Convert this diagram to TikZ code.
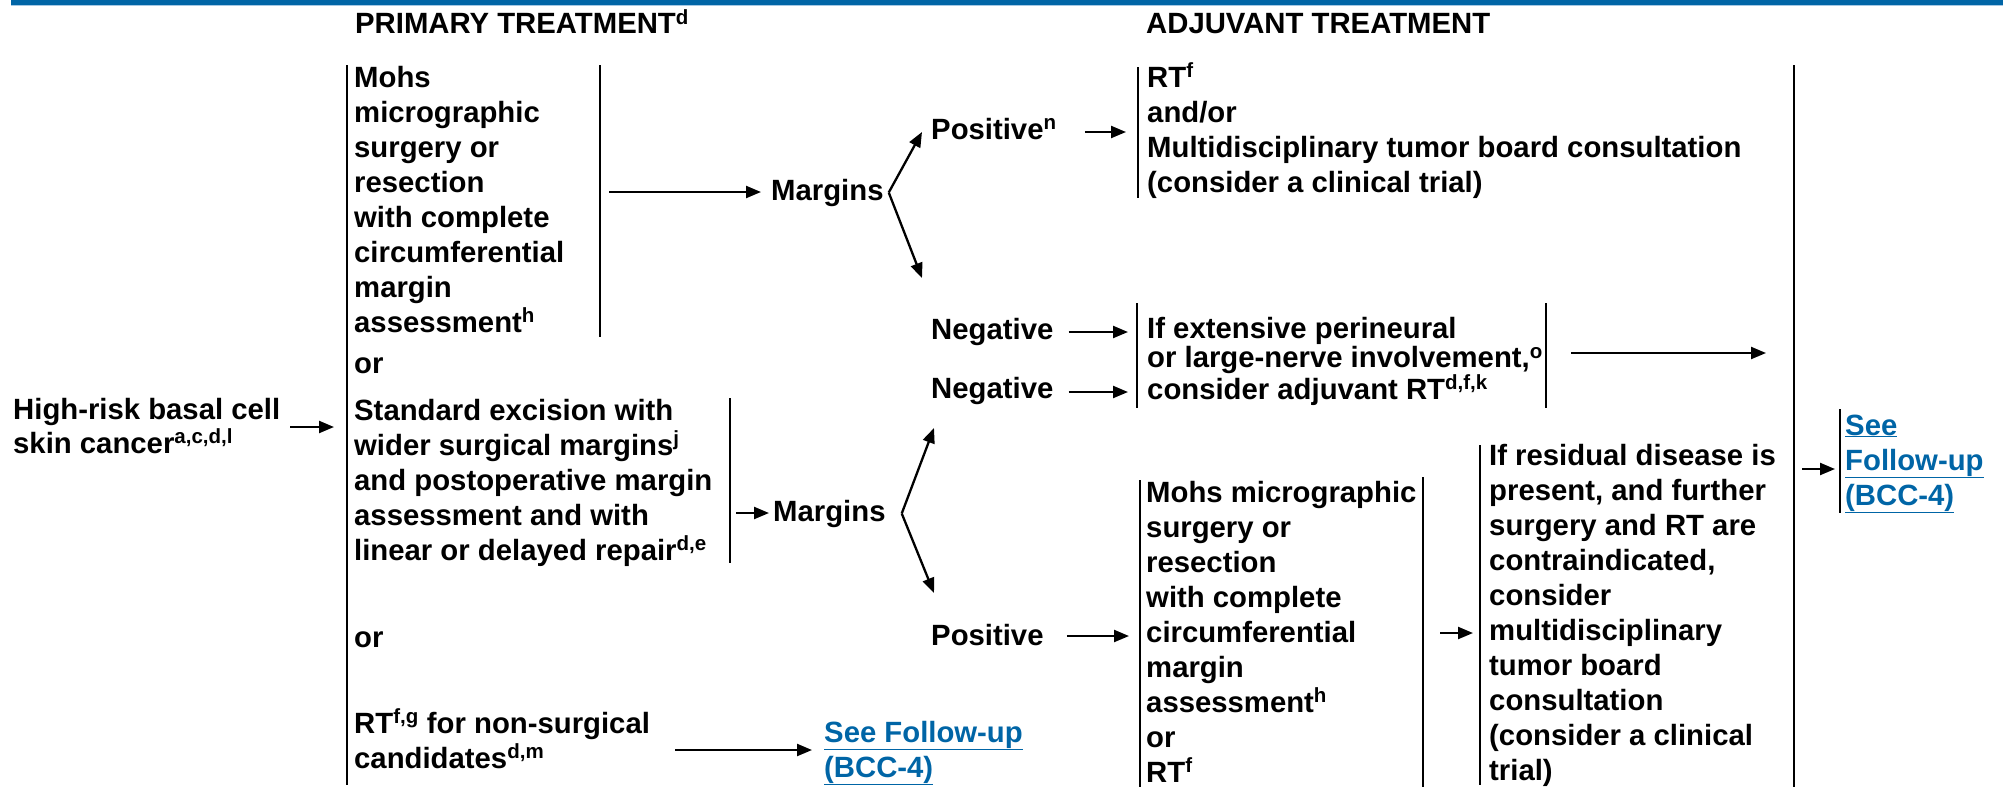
\documentclass[tikz,border=0pt]{standalone}
\usepackage{fontspec}
\setmainfont{Liberation Sans}
\usepackage{xcolor}
\usetikzlibrary{arrows.meta}
\definecolor{nccnblue}{RGB}{0,101,166}
\definecolor{nccnlight}{RGB}{165,200,228}
\definecolor{linkblue}{RGB}{0,101,166}

\begin{document}
\begin{tikzpicture}[x=1pt,y=-1pt,
  >={Triangle[length=15pt,width=12pt]},
  txt/.style={anchor=base west, inner sep=0pt, align=left, font=\bfseries\fontsize{29.3}{35}\selectfont},
  tight/.style={txt, font=\bfseries\fontsize{29.3}{29.5}\selectfont},
  link/.style={txt, text=linkblue},
  bar/.style={line width=2.5pt},
  arr/.style={->, line width=2.3pt}]
  \useasboundingbox (0,0) rectangle (2003,787);

  % Header
  \fill[nccnblue] (11,0) rectangle (2003,5);
  \draw[nccnlight, line width=1pt] (11,5.5) -- (2003,5.5);
  \node[txt] (hprim) at (355,34) {PRIMARY TREATMENT\textsuperscript{d}};
  \node[txt] (hadj) at (1146,34) {ADJUVANT TREATMENT};

  % Nodes (multi-line nodes sit on the baseline of their last line)
  \node[txt, font=\bfseries\fontsize{29.3}{34}\selectfont] (start) at (13,453) {High-risk basal cell\\skin cancer\textsuperscript{a,c,d,l}};
  \node[txt] (mohsa) at (354,332) {Mohs\\micrographic\\surgery or\\resection\\with complete\\circumferential\\margin\\assessment\textsuperscript{h}};
  \node[txt] (ora) at (354,373) {or};
  \node[txt] (stdexc) at (354,560) {Standard excision with\\wider surgical margins\textsuperscript{j}\\and postoperative margin\\assessment and with\\linear or delayed repair\textsuperscript{d,e}};
  \node[txt] (orb) at (354,647) {or};
  \node[txt] (rtonly) at (354,768) {RT\textsuperscript{f,g} for non-surgical\\candidates\textsuperscript{d,m}};
  \node[link] (fupa) at (824,777) {\underline{See Follow-up}\\\underline{(BCC-4)}};
  \node[txt] (marga) at (771,200) {Margins};
  \node[txt] (margb) at (773,521) {Margins};
  \node[txt] (posn) at (931,139) {Positive\textsuperscript{n}};
  \node[txt] (nega) at (931,339) {Negative};
  \node[txt] (negb) at (931,398) {Negative};
  \node[txt] (posb) at (931,645) {Positive};
  \node[txt] (adja) at (1147,192) {RT\textsuperscript{f}\\and/or\\Multidisciplinary tumor board consultation\\(consider a clinical trial)};
  \node[tight] (adjb) at (1147,399) {If extensive perineural\\or large-nerve involvement,\textsuperscript{o}\\consider adjuvant RT\textsuperscript{d,f,k}};
  \node[txt] (mohsb) at (1146,782) {Mohs micrographic\\surgery or\\resection\\with complete\\circumferential\\margin\\assessment\textsuperscript{h}\\or\\RT\textsuperscript{f}};
  \node[txt] (resid) at (1489,780) {If residual disease is\\present, and further\\surgery and RT are\\contraindicated,\\consider\\multidisciplinary\\tumor board\\consultation\\(consider a clinical\\trial)};
  \node[link] (fupb) at (1845,505) {\underline{See}\\\underline{Follow-up}\\\underline{(BCC-4)}};

  % Brackets
  \draw[bar] (347,65) -- (347,785);
  \draw[bar] (600,65) -- (600,337);
  \draw[bar] (730,398) -- (730,563);
  \draw[bar] (1138,67) -- (1138,198);
  \draw[bar] (1137,303) -- (1137,408);
  \draw[bar] (1546,303) -- (1546,408);
  \draw[bar] (1140,480) -- (1140,787);
  \draw[bar] (1423,477) -- (1423,787);
  \draw[bar] (1480,445) -- (1480,785);
  \draw[bar] (1794,65) -- (1794,787);
  \draw[bar] (1840,409) -- (1840,513);

  % Arrow ends
  \coordinate (primin) at (334,427);
  \coordinate (mohsout) at (609,192);
  \coordinate (stdout) at (736,513);
  \coordinate (rtout) at (672,750);
  \coordinate (posnT) at (922,132);
  \coordinate (negT) at (922,278);
  \coordinate (negbT) at (934,428);
  \coordinate (posbT) at (934,593);
  \coordinate (adjain) at (1126,132);
  \coordinate (adjbin) at (1128,332);
  \coordinate (adjbinb) at (1128,392);
  \coordinate (mohsbin) at (1129,636);
  \coordinate (adjbout) at (1571,353);
  \coordinate (talltip) at (1766,353);
  \coordinate (mohsbout) at (1440,633);
  \coordinate (residin) at (1473,633);
  \coordinate (tallout) at (1802,469);
  \coordinate (fupbin) at (1835,469);

  % Paths
  \draw[arr, shorten <=10pt] (start.east |- primin) -- (primin);
  \draw[arr, shorten >=10pt] (mohsout) -- (mohsout -| marga.west);
  \draw[arr, shorten >=4pt] (stdout) -- (stdout -| margb.west);
  \draw[arr] ([xshift=5pt]marga.east) -- (posnT);
  \draw[arr] ([xshift=5pt]marga.east) -- (negT);
  \draw[arr] ([xshift=16pt]margb.east) -- (negbT);
  \draw[arr] ([xshift=16pt]margb.east) -- (posbT);
  \draw[arr, shorten <=28pt] (posn.east |- adjain) -- (adjain);
  \draw[arr, shorten <=15pt] (nega.east |- adjbin) -- (adjbin);
  \draw[arr, shorten <=15pt] (negb.east |- adjbinb) -- (adjbinb);
  \draw[arr, shorten <=23pt] (posb.east |- mohsbin) -- (mohsbin);
  \draw[arr, shorten <=25pt, shorten >=12pt] (rtonly.east |- rtout) -- (rtout -| fupa.west);
  \draw[arr] (adjbout) -- (talltip);
  \draw[arr] (mohsbout) -- (residin);
  \draw[arr] (tallout) -- (fupbin);
\end{tikzpicture}
\end{document}
